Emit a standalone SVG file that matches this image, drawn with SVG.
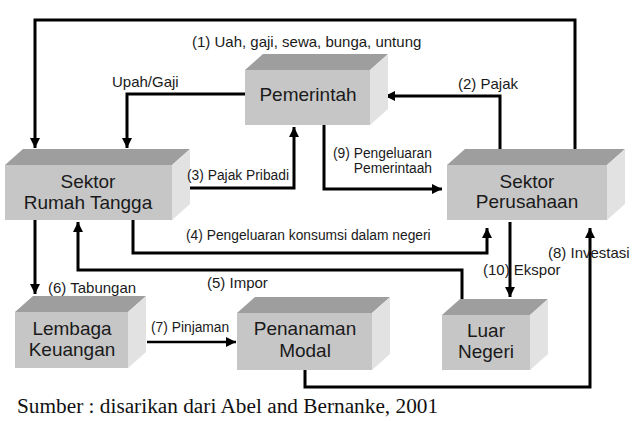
<svg xmlns="http://www.w3.org/2000/svg" width="641" height="421" viewBox="0 0 641 421">
<style>
.front{fill:#c6c6c6}
.top{fill:#9e9e9e}
.side{fill:#e2e2e2}
.bt{font-family:"Liberation Sans",Arial,sans-serif;font-size:19px;fill:#1a1a1a;text-anchor:middle}
.lb{font-family:"Liberation Sans",Arial,sans-serif;font-size:15px;fill:#1a1a1a}
.ls{font-family:"Liberation Sans",Arial,sans-serif;font-size:13.8px;fill:#1a1a1a}
.cn{fill:none;stroke:#000;stroke-width:3;marker-end:url(#ah)}
</style>
<defs>
<marker id="ah" markerUnits="userSpaceOnUse" markerWidth="11" markerHeight="11" refX="10" refY="5" orient="auto">
<path d="M0,0 L10,5 L0,10 z" fill="#000"/>
</marker>
</defs>
<rect width="641" height="421" fill="#fff"/>

<g id="connectors">
<path class="cn" d="M575,150 V20 H35 V148"/>
<path class="cn" d="M245,94 H127 V148"/>
<path class="cn" d="M500,150 V96 H385"/>
<path class="cn" d="M188,188 H294 V127"/>
<path class="cn" d="M324,125 V189 H442"/>
<path class="cn" d="M133,220 V253 H487 V228"/>
<path class="cn" d="M462,299 V270 H78 V222"/>
<path class="cn" d="M35,220 V294"/>
<path d="M147,342 H236" fill="none" stroke="#000" stroke-width="2.5" marker-end="url(#ah)"/>
<path class="cn" d="M510,222 V297"/>
<path class="cn" d="M305,370 V387 H590 V228"/>
</g>

<g id="pemerintah">
<polygon class="top" points="245,70 263,54 388,54 370,70"/>
<polygon class="side" points="370,70 388,54 388,109 370,125"/>
<rect class="front" x="245" y="70" width="125" height="55"/>
<text class="bt" x="308" y="101">Pemerintah</text>
</g>

<g id="rumah-tangga">
<polygon class="top" points="5,165 23,149 190,149 172,165"/>
<polygon class="side" points="172,165 190,149 190,204 172,220"/>
<rect class="front" x="5" y="165" width="167" height="55"/>
<text class="bt" x="88" y="188">Sektor</text>
<text class="bt" x="88" y="209">Rumah Tangga</text>
</g>

<g id="perusahaan">
<polygon class="top" points="447,165 465,149 625,149 607,165"/>
<polygon class="side" points="607,165 625,149 625,204 607,220"/>
<rect class="front" x="447" y="165" width="160" height="55"/>
<text class="bt" x="527" y="188">Sektor</text>
<text class="bt" x="527" y="208">Perusahaan</text>
</g>

<g id="lembaga-keuangan">
<polygon class="top" points="15,312 33,296 146,296 128,312"/>
<polygon class="side" points="128,312 146,296 146,352 128,368"/>
<rect class="front" x="15" y="312" width="113" height="56"/>
<text class="bt" x="72" y="335">Lembaga</text>
<text class="bt" x="72" y="356">Keuangan</text>
</g>

<g id="penanaman-modal">
<polygon class="top" points="237,313 255,297 390,297 372,313"/>
<polygon class="side" points="372,313 390,297 390,354 372,370"/>
<rect class="front" x="237" y="313" width="135" height="57"/>
<text class="bt" x="305" y="335">Penanaman</text>
<text class="bt" x="305" y="357">Modal</text>
</g>

<g id="luar-negeri">
<polygon class="top" points="442,315 460,299 548,299 530,315"/>
<polygon class="side" points="530,315 548,299 548,354 530,370"/>
<rect class="front" x="442" y="315" width="88" height="55"/>
<text class="bt" x="486" y="337">Luar</text>
<text class="bt" x="486" y="358">Negeri</text>
</g>

<g id="labels">
<text class="lb" x="192" y="47">(1) Uah, gaji, sewa, bunga, untung</text>
<text class="lb" x="112" y="87">Upah/Gaji</text>
<text class="lb" x="458" y="89">(2) Pajak</text>
<text class="ls" x="187" y="180">(3) Pajak Pribadi</text>
<text class="ls" x="333" y="158">(9) Pengeluaran</text>
<text class="ls" x="432" y="173" text-anchor="end">Pemerintaah</text>
<text class="ls" x="186" y="240">(4) Pengeluaran konsumsi dalam negeri</text>
<text class="lb" x="548" y="258">(8) Investasi</text>
<text class="lb" x="483" y="275" font-size="14.5">(10) Ekspor</text>
<text class="lb" x="207" y="288">(5) Impor</text>
<text class="lb" x="48" y="293">(6) Tabungan</text>
<text class="ls" x="151" y="332" font-size="13">(7) Pinjaman</text>
<text x="17" y="413" font-family="'Liberation Serif','Times New Roman',serif" font-size="21.3" fill="#111">Sumber : disarikan dari Abel and Bernanke, 2001</text>
</g>
</svg>
